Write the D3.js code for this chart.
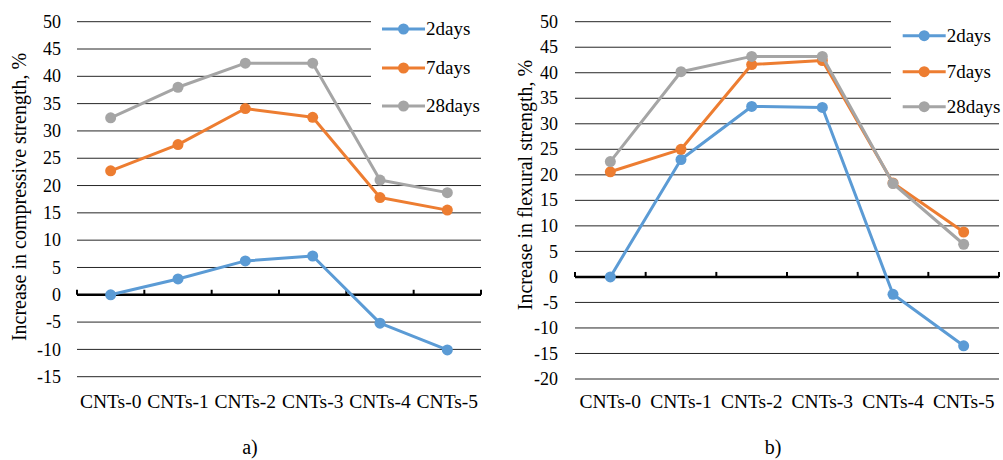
<!DOCTYPE html>
<html><head><meta charset="utf-8">
<script src="https://cdn.jsdelivr.net/npm/d3@7"></script>
<style>body{margin:0;background:#fff}svg{display:block}</style>
</head><body><svg id="c" width="1003" height="460"></svg>
<script>
const categories = ["CNTs-0","CNTs-1","CNTs-2","CNTs-3","CNTs-4","CNTs-5"];
const seriesNames = ["2days","7days","28days"];
const colors = ["#5B9BD5","#ED7D31","#A5A5A5"];
const ticksA = [50,45,40,35,30,25,20,15,10,5,0,-5,-10,-15];
const ticksB = [50,45,40,35,30,25,20,15,10,5,0,-5,-10,-15,-20];
const compressive2 = [0, 2.9, 6.2, 7.1, -5.2, -10.1];
const compressive7 = [22.7, 27.5, 34.1, 32.5, 17.8, 15.5];
const compressive28 = [32.4, 38.0, 42.4, 42.4, 21.0, 18.7];
const flexural2 = [0, 23.0, 33.4, 33.2, -3.4, -13.5];
const flexural7 = [20.6, 25.0, 41.6, 42.4, 18.4, 8.8];
const flexural28 = [22.6, 40.2, 43.2, 43.2, 18.3, 6.4];

const FONT = "'Liberation Serif', Tinos, 'DejaVu Serif', 'Noto Serif', serif";
const svg = d3.select("#c");

function txt(sel){ return sel.style("font-family", FONT).attr("fill", "#000"); }

function panel(o){
  const g = svg.append("g");
  const x = d3.scaleBand().domain(categories).range([o.x0, o.x1]);
  const y = d3.scaleLinear().domain([o.ticks[o.ticks.length-1], o.ticks[0]]).range([o.y1, o.y0]);
  g.selectAll("line.grid").data(o.ticks.filter(t=>t!==0)).join("line")
    .attr("x1", o.x0).attr("x2", d => d >= o.legendCut ? o.xCut : o.x1)
    .attr("y1", d=>y(d)).attr("y2", d=>y(d))
    .attr("stroke", "#262626").attr("stroke-width", 1);
  txt(g.selectAll("text.yt").data(o.ticks).join("text"))
    .attr("x", o.x0 - o.tickGap).attr("y", d=>y(d)).attr("dy","0.34em")
    .attr("text-anchor","end").attr("font-size", 18).text(d=>d);
  const ax = g.append("g").attr("transform", `translate(0,${y(0)})`);
  ax.append("line").attr("x1", o.x0).attr("x2", o.x1).attr("stroke","#000").attr("stroke-width",2.5);
  const edges = categories.map(c=>x(c)).concat([o.x1]);
  ax.selectAll("line.tk").data(edges).join("line")
    .attr("x1", d=>d).attr("x2", d=>d).attr("y1", 0).attr("y2", -5)
    .attr("stroke","#000").attr("stroke-width",2);
  txt(g.selectAll("text.xl").data(categories).join("text"))
    .attr("x", d=>x(d)+x.bandwidth()/2).attr("y", 408)
    .attr("text-anchor","middle").attr("font-size", 19.5).text(d=>d);
  txt(g.append("text")).attr("transform", `translate(${o.titleX},${o.titleY}) rotate(-90)`)
    .attr("text-anchor","middle").attr("dy","0.35em").attr("font-size", 20).text(o.title);
  const line = d3.line().x((d,i)=>x(categories[i])+x.bandwidth()/2).y(d=>y(d));
  o.series.forEach((s,k)=>{
    g.append("path").datum(s).attr("d", line).attr("fill","none")
      .attr("stroke", colors[k]).attr("stroke-width", 3).attr("stroke-linejoin","round");
    g.selectAll(null).data(s).join("circle")
      .attr("cx",(d,i)=>x(categories[i])+x.bandwidth()/2).attr("cy", d=>y(d))
      .attr("r", 5.5).attr("fill", colors[k]);
  });
  seriesNames.forEach((n,k)=>{
    const ly = o.legY[k];
    g.append("line").attr("x1", o.legX).attr("x2", o.legX+43).attr("y1", ly).attr("y2", ly)
      .attr("stroke", colors[k]).attr("stroke-width", 3);
    g.append("circle").attr("cx", o.legX+21.5).attr("cy", ly).attr("r", 5.5).attr("fill", colors[k]);
    txt(g.append("text")).attr("x", o.legX+44).attr("y", ly).attr("dy","0.34em")
      .attr("font-size", 19).text(n);
  });
  txt(g.append("text")).attr("x", o.capX).attr("y", 454).attr("text-anchor","middle")
    .attr("font-size", 20).text(o.caption);
}

panel({x0:77, x1:481, y0:21.7, y1:376.7, ticks:ticksA, legendCut:35, xCut:371, tickGap:16,
  series:[compressive2, compressive7, compressive28],
  title:"Increase in compressive strength, %", titleX:19, titleY:197,
  legX:382, legY:[29,68,106], capX:250, caption:"a)"});
panel({x0:575, x1:999, y0:21.7, y1:379, ticks:ticksB, legendCut:35, xCut:891, tickGap:17,
  series:[flexural2, flexural7, flexural28],
  title:"Increase in flexural strength, %", titleX:525, titleY:185,
  legX:902.7, legY:[35.7,71.7,106.7], capX:773, caption:"b)"});
</script></body></html>
